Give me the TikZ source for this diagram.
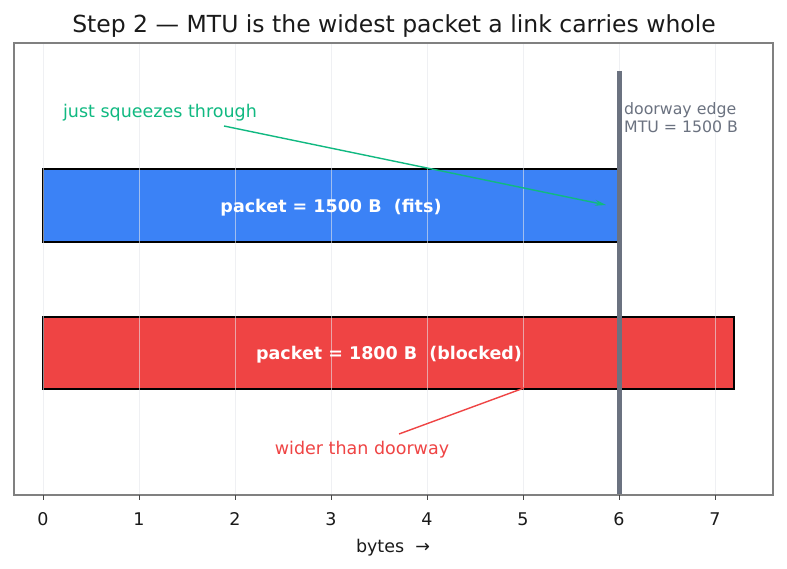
\documentclass[tikz,border=0pt]{standalone}
\usepackage{fontspec}
\setmainfont{DejaVu Sans}
\usetikzlibrary{arrows.meta}
\definecolor{barblue}{HTML}{3B82F6}
\definecolor{barred}{HTML}{EF4444}
\definecolor{okgreen}{HTML}{10B981}
\definecolor{doorgray}{HTML}{6B7280}
\definecolor{gridgray}{HTML}{E5E7EB}
\definecolor{framegray}{HTML}{808080}
\definecolor{txt}{HTML}{1A1A1A}
\begin{document}
\begin{tikzpicture}[x=1pt,y=-1pt,
  base/.style={inner sep=0pt,text=txt,font=\fontsize{17.5}{21}\selectfont},
  ticklabel/.style={base},
  barbox/.style={draw=black,line width=1.5pt},
  barlabel/.style={inner sep=0pt,text=white,font=\fontsize{17.5}{21}\selectfont\bfseries},
  gridline/.style={draw=gridgray,line width=0.8pt,opacity=0.6},
  tickmark/.style={draw=txt!80,line width=1pt},
  note/.style={inner sep=0pt,font=\fontsize{17.5}{21}\selectfont}]
\useasboundingbox (0,0) rectangle (787,569);
\fill[white] (0,0) rectangle (787,569);
% title
\node[base,font=\fontsize{23.5}{27}\selectfont] (title) at (394,26) {Step 2 — MTU is the widest packet a link carries whole};
% bars
\draw[barbox,fill=barblue] (43,169) rectangle (619,242);
\draw[barbox,fill=barred] (43,317) rectangle (734.2,389);
% grid
\foreach \i in {0,...,7} {
  \draw[gridline] (43+96*\i,43) -- (43+96*\i,495);
}
% bar labels
\node[barlabel] (lab1) at (331,207.5) {packet = 1500 B\ \ (fits)};
\node[barlabel] (lab2) at (389,354.5) {packet = 1800 B\ \ (blocked)};
% doorway
\coordinate (dtop) at (619,71);
\coordinate (dbot) at (619,495);
\draw[doorgray,line width=5pt] (dtop) -- (dbot);
\node[inner sep=0pt,anchor=west,align=left,text=doorgray,font=\fontsize{15.75}{18}\selectfont] (door) at (624,118) {doorway edge\\MTU = 1500 B};
% annotations
\node[note,text=okgreen] (sq) at (160,112.5) {just squeezes through};
\coordinate (g1) at (224,126);
\coordinate (g2) at (606,205);
\draw[okgreen,line width=1.4pt,-{Stealth[length=11pt,width=6pt]}] (g1) -- (g2);
\node[note,text=barred] (wd) at (362,449.5) {wider than doorway};
\coordinate (r1) at (399,434);
\coordinate (r2) at (524,388);
\draw[barred,line width=1.4pt] (r1) -- (r2);
% frame
\draw[framegray,line width=1.2pt] (14,43) rectangle (773,495);
% ticks
\foreach \i in {0,...,7} {
  \draw[tickmark] (43+96*\i,495) -- (43+96*\i,500);
  \node[ticklabel] (t\i) at (43+96*\i,519.5) {\i};
}
\node[base] (xlab) at (393,547.5) {bytes\ \ →};
\end{tikzpicture}
\end{document}
